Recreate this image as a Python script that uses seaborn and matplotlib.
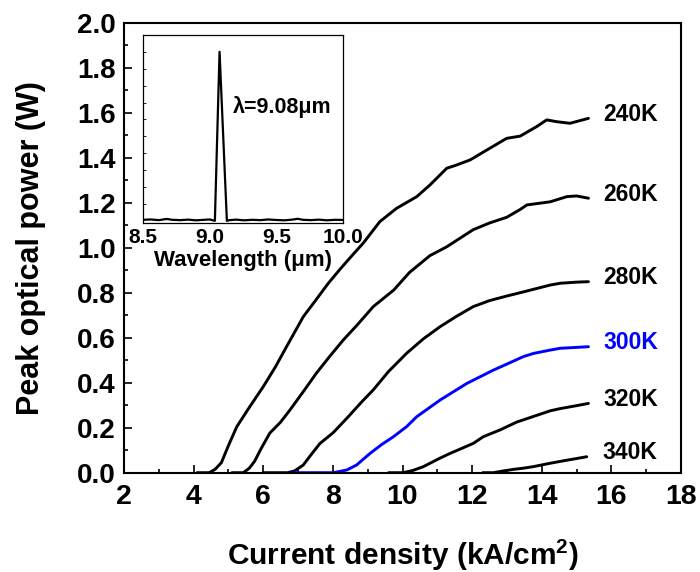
import matplotlib
matplotlib.use("Agg")
import matplotlib.pyplot as plt
from matplotlib.ticker import MultipleLocator
import seaborn as sns
import pandas as pd

# ---------------- data ----------------
temps = ["240K", "260K", "280K", "300K", "320K", "340K"]

j_240 = [4.10, 4.45, 4.62, 4.80, 5.00, 5.24, 5.60, 6.00, 6.35, 6.67, 7.15, 7.50, 7.87, 8.21, 8.55,
         8.87, 9.35, 9.83, 10.41, 10.79, 11.27, 11.56, 11.94, 12.42, 12.99, 13.38, 13.85, 14.14,
         14.43, 14.81, 15.10, 15.34]
p_240 = [0.00, 0.00, 0.015, 0.045, 0.12, 0.204, 0.29, 0.382, 0.47, 0.56, 0.693, 0.765, 0.842, 0.905,
         0.965, 1.020, 1.116, 1.175, 1.227, 1.279, 1.353, 1.368, 1.39, 1.434, 1.486, 1.496, 1.538,
         1.568, 1.56, 1.553, 1.565, 1.575]

j_260 = [5.10, 5.43, 5.60, 5.75, 5.95, 6.19, 6.50, 6.77, 7.15, 7.53, 7.90, 8.30, 8.69, 9.16, 9.75,
         10.20, 10.79, 11.27, 12.03, 12.50, 12.99, 13.38, 13.57, 14.24, 14.72, 15.00, 15.34]
p_260 = [0.00, 0.00, 0.02, 0.05, 0.11, 0.176, 0.225, 0.279, 0.36, 0.443, 0.515, 0.59, 0.655, 0.738,
         0.812, 0.89, 0.965, 1.004, 1.08, 1.11, 1.135, 1.17, 1.19, 1.204, 1.227, 1.23, 1.22]

j_280 = [6.00, 6.70, 6.90, 7.15, 7.35, 7.63, 8.01, 8.45, 8.80, 9.16, 9.60, 10.12, 10.60, 11.08, 11.55,
         12.03, 12.50, 12.99, 13.38, 13.76, 14.24, 14.53, 15.00, 15.34]
p_280 = [0.00, 0.00, 0.008, 0.034, 0.075, 0.13, 0.178, 0.25, 0.31, 0.368, 0.45, 0.531, 0.595, 0.649,
         0.695, 0.738, 0.765, 0.785, 0.80, 0.815, 0.834, 0.842, 0.847, 0.849]

j_300 = [6.86, 7.50, 8.01, 8.40, 8.68, 9.07, 9.40, 9.74, 10.12, 10.41, 11.08, 11.85, 12.61, 13.10,
         13.47, 13.76, 14.24, 14.53, 15.00, 15.34]
p_300 = [0.0, 0.0, 0.0, 0.012, 0.034, 0.086, 0.125, 0.16, 0.205, 0.249, 0.323, 0.397, 0.456, 0.49,
         0.516, 0.53, 0.545, 0.553, 0.557, 0.56]

j_320 = [9.60, 10.02, 10.30, 10.60, 11.08, 11.37, 12.03, 12.32, 12.80, 13.28, 13.76, 14.24, 14.53,
         15.00, 15.34]
p_320 = [0.0, 0.0, 0.01, 0.027, 0.065, 0.086, 0.13, 0.16, 0.19, 0.225, 0.25, 0.275, 0.285, 0.298, 0.308]

j_340 = [12.30, 12.61, 12.90, 13.20, 13.47, 13.76, 14.24, 14.70, 15.00, 15.29]
p_340 = [0.0, 0.0, 0.008, 0.015, 0.02, 0.027, 0.042, 0.055, 0.063, 0.071]

# inset spectrum
wavelength = [8.50, 8.56, 8.62, 8.68, 8.72, 8.78, 8.84, 8.90, 8.96, 9.00, 9.02, 9.04, 9.075, 9.13,
              9.15, 9.20, 9.26, 9.32, 9.38, 9.44, 9.50, 9.56, 9.62, 9.66, 9.70, 9.76, 9.82, 9.88,
              9.94, 10.00]
intensity = [0.006, 0.008, 0.004, 0.011, 0.006, 0.004, 0.007, 0.003, 0.006, 0.008, 0.004, 0.0, 1.0,
             0.0, 0.004, 0.007, 0.003, 0.006, 0.004, 0.008, 0.005, 0.003, 0.007, 0.012, 0.006,
             0.004, 0.007, 0.003, 0.006, 0.005]

peak_label = "λ=9.08μm"

# ---------------- style ----------------
sns.set_theme(style="white")
plt.rcParams["font.family"] = ["Liberation Sans", "DejaVu Sans"]
plt.rcParams["font.weight"] = "bold"
plt.rcParams["text.color"] = "black"
plt.rcParams["axes.labelcolor"] = "black"
plt.rcParams["xtick.color"] = "black"
plt.rcParams["ytick.color"] = "black"
plt.rcParams["mathtext.fontset"] = "custom"
plt.rcParams["mathtext.rm"] = "Liberation Sans:bold"
plt.rcParams["mathtext.bf"] = "Liberation Sans:bold"
plt.rcParams["mathtext.it"] = "Liberation Sans:bold"

colors = {"240K": "black", "260K": "black", "280K": "black",
          "300K": "#0000ff", "320K": "black", "340K": "black"}

series = [(j_240, p_240), (j_260, p_260), (j_280, p_280),
          (j_300, p_300), (j_320, p_320), (j_340, p_340)]
frames = []
for t, (jj, pp) in zip(temps, series):
    frames.append(pd.DataFrame({"J": jj, "P": pp, "T": t}))
df = pd.concat(frames, ignore_index=True)

fig = plt.figure(figsize=(7.0, 5.72), dpi=100)
ax = fig.add_axes([0.177, 0.1736, 0.796, 0.7867])

sns.lineplot(data=df, x="J", y="P", hue="T", palette=colors, estimator=None,
             sort=False, linewidth=2.1, legend=False, ax=ax)

for t, (jj, pp) in zip(temps, series):
    ax.annotate(t, xy=(jj[-1], pp[-1]), xytext=(11, 3), textcoords="offset points",
                ha="left", va="center", fontsize=16.5, fontweight="bold", color=colors[t])

ax.set_xlim(2, 18)
ax.set_ylim(0, 2.0)
ax.xaxis.set_minor_locator(MultipleLocator(1))
ax.yaxis.set_minor_locator(MultipleLocator(0.1))
ax.set_xticks([2, 4, 6, 8, 10, 12, 14, 16, 18])
ax.set_xticklabels(["2", "4", "6", "8", "10", "12", "14", "16", "18"])
ax.set_yticks([0.0, 0.2, 0.4, 0.6, 0.8, 1.0, 1.2, 1.4, 1.6, 1.8, 2.0])
ax.set_yticklabels(["0.0", "0.2", "0.4", "0.6", "0.8", "1.0", "1.2", "1.4", "1.6", "1.8", "2.0"])

ax.tick_params(axis="both", which="both", direction="in", bottom=True, left=True,
               top=False, right=False, color="black", labelcolor="black", width=1.2)
ax.tick_params(axis="both", which="major", length=5.5)
ax.tick_params(axis="both", which="minor", length=3)
ax.tick_params(axis="x", which="major", pad=8, labelsize=20.5)
ax.tick_params(axis="y", which="major", pad=6, labelsize=20)
for lab in ax.get_xticklabels() + ax.get_yticklabels():
    lab.set_fontweight("bold")
for s in ax.spines.values():
    s.set_color("black")
    s.set_linewidth(1.5)

ax.set_xlabel("Current density (kA/cm$^{2}$)", fontsize=21.5, fontweight="bold", labelpad=20,
              color="black")
ax.set_ylabel("Peak optical power (W)", fontsize=22, fontweight="bold", labelpad=22,
              color="black")

# ---------------- inset ----------------
axin = fig.add_axes([0.204, 0.611, 0.286, 0.328])
sns.lineplot(x=wavelength, y=intensity, color="black", linewidth=1.6, estimator=None,
             sort=False, ax=axin)
axin.set_xlim(8.5, 10.0)
axin.set_ylim(-0.01, 1.1)
axin.set_xticks([8.5, 9.0, 9.5, 10.0])
axin.set_xticklabels(["8.5", "9.0", "9.5", "10.0"])
axin.set_yticks([0.1, 0.2, 0.3, 0.4, 0.5, 0.6, 0.7, 0.8, 0.9, 1.0])
axin.set_yticklabels([])
axin.tick_params(axis="x", which="both", length=0, labelsize=15, pad=4, labelcolor="black")
axin.tick_params(axis="y", which="both", direction="in", length=2, width=0.6, left=True,
                 right=False, color="black")
for lab in axin.get_xticklabels():
    lab.set_fontweight("bold")
axin.set_xlabel("Wavelength (μm)", fontsize=16, fontweight="bold", labelpad=2, color="black")
axin.set_ylabel("")
for s in axin.spines.values():
    s.set_color("black")
    s.set_linewidth(0.9)
axin.text(9.175, 0.672, peak_label, ha="left", va="center", fontsize=15.5,
          fontweight="bold", color="black")

fig.savefig("out.png", dpi=100)
